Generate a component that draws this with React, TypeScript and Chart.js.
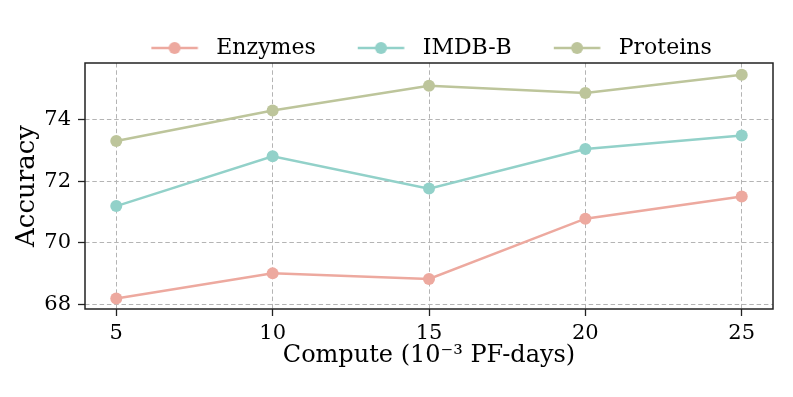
import React, { useEffect, useRef } from "react";
import { Chart, registerables } from "chart.js";

Chart.register(...registerables);

const computeX = [5, 10, 15, 20, 25];
const enzymes = [68.18, 69.0, 68.82, 70.78, 71.5];
const imdbB = [71.19, 72.81, 71.76, 73.05, 73.49];
const proteins = [73.31, 74.3, 75.11, 74.87, 75.47];
const seriesNames = ["Enzymes", "IMDB-B", "Proteins"];
const seriesColors = ["#EDA99F", "#92D1C9", "#BDC59B"];
const xTickValues = [5, 10, 15, 20, 25];
const yTickValues = [68, 70, 72, 74];

const FONT = "'DejaVu Serif', serif";
const TEXT = "#000000";

const LEG_W = 59;

function makeLegendImage(color: string): HTMLCanvasElement {
  const c = document.createElement("canvas");
  c.width = LEG_W;
  c.height = 14;
  const ctx = c.getContext("2d")!;
  ctx.strokeStyle = color;
  ctx.lineWidth = 2.5;
  ctx.beginPath();
  ctx.moveTo(5, 7);
  ctx.lineTo(51.5, 7);
  ctx.stroke();
  ctx.fillStyle = color;
  ctx.beginPath();
  ctx.arc(28.25, 7, 6, 0, Math.PI * 2);
  ctx.fill();
  return c;
}

const framePlugin = {
  id: "frame",
  afterDraw(chart: any) {
    const { ctx, chartArea } = chart;
    ctx.save();
    ctx.strokeStyle = "#222222";
    ctx.lineWidth = 1.5;
    ctx.strokeRect(chartArea.left, chartArea.top, chartArea.right - chartArea.left, chartArea.bottom - chartArea.top);
    ctx.restore();
  },
};

export default function App() {
  const ref = useRef<HTMLCanvasElement | null>(null);
  useEffect(() => {
    if (!ref.current) return;
    const series = [enzymes, imdbB, proteins];
    const images = seriesColors.map(makeLegendImage);
    const chart = new Chart(ref.current, {
      type: "line",
      data: {
        datasets: series.map((vals, i) => ({
          label: seriesNames[i],
          data: computeX.map((x, j) => ({ x, y: vals[j] })),
          borderColor: seriesColors[i],
          backgroundColor: seriesColors[i],
          pointBackgroundColor: seriesColors[i],
          pointBorderWidth: 0,
          pointRadius: 6,
          borderWidth: 2.5,
          tension: 0,
          fill: false,
        })),
      },
      options: {
        animation: false,
        responsive: false,
        devicePixelRatio: 1,
        layout: { padding: { left: 0, right: 20, top: 0, bottom: 0 } },
        plugins: {
          tooltip: { enabled: false },
          legend: {
            position: "top",
            fullSize: false,
            maxHeight: 63,
            labels: {
              usePointStyle: true,
              pointStyleWidth: LEG_W,
              padding: 37,
              color: TEXT,
              font: { family: FONT, size: 22 },
              generateLabels(ch: any) {
                const items = Chart.defaults.plugins.legend.labels.generateLabels(ch);
                return items.map((it: any, i: number) => ({ ...it, pointStyle: images[i] }));
              },
            },
          },
        },
        scales: {
          x: {
            type: "linear",
            min: 4,
            max: 26,
            afterBuildTicks(scale: any) {
              scale.ticks = xTickValues.map((v) => ({ value: v }));
            },
            afterFit(scale: any) {
              scale.height = 88;
            },
            ticks: {
              color: TEXT,
              font: { family: FONT, size: 21 },
              padding: 5,
              maxRotation: 0,
              autoSkip: false,
              callback: (v: any) => String(v),
            },
            grid: {
              color: "#b4b4b4",
              lineWidth: 1,
              tickLength: 7,
              tickColor: "#222222",
              tickWidth: 1.3,
              tickBorderDash: [],
            },
            border: { display: false, dash: [4.5, 2.8] },
            title: {
              display: true,
              text: "Compute (10\u207B\u00B3 PF-days)",
              color: TEXT,
              font: { family: FONT, size: 24 },
              padding: { top: 0, bottom: 26.6 },
            },
          },
          y: {
            type: "linear",
            min: 67.84,
            max: 75.85,
            afterBuildTicks(scale: any) {
              scale.ticks = yTickValues.map((v) => ({ value: v }));
            },
            afterFit(scale: any) {
              scale.width = 85;
            },
            ticks: {
              color: TEXT,
              font: { family: FONT, size: 21 },
              padding: 7,
              autoSkip: false,
              callback: (v: any) => String(v),
            },
            grid: {
              color: "#b4b4b4",
              lineWidth: 1,
              tickLength: 7,
              tickColor: "#222222",
              tickWidth: 1.3,
              tickBorderDash: [],
            },
            border: { display: false, dash: [4.5, 2.8] },
            title: {
              display: true,
              text: "Accuracy",
              color: TEXT,
              font: { family: FONT, size: 26 },
              padding: { top: 12, bottom: 0 },
            },
          },
        },
      },
      plugins: [framePlugin],
    } as any);
    return () => chart.destroy();
  }, []);
  return (
    <div style={{ position: "absolute", left: 0, top: 0, width: 793, height: 397, background: "#ffffff" }}>
      <canvas ref={ref} width={793} height={397} />
    </div>
  );
}
